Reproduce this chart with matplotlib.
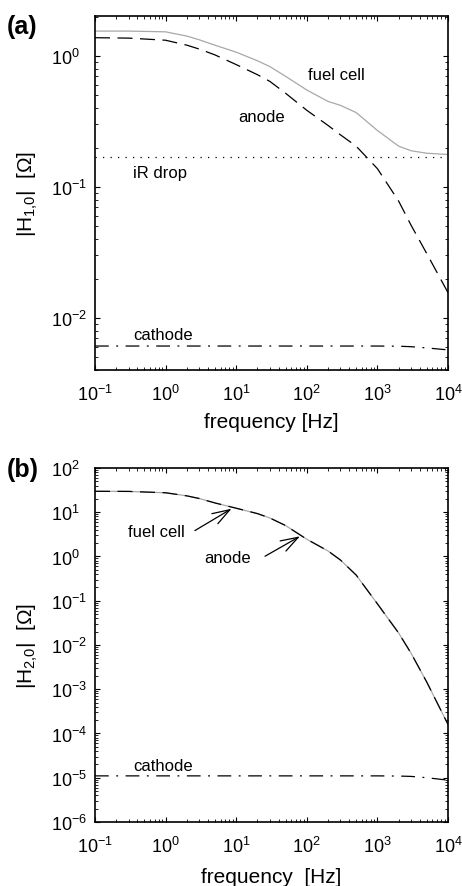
import numpy as np
import matplotlib
matplotlib.use("Agg")
import matplotlib.pyplot as plt
from matplotlib.ticker import LogLocator, NullFormatter

plt.rcParams['font.family'] = ['Liberation Sans', 'DejaVu Sans']
plt.rcParams['mathtext.fontset'] = 'custom'
plt.rcParams['mathtext.rm'] = 'Liberation Sans'
plt.rcParams['mathtext.it'] = 'Liberation Sans:italic'

# frequency grid [Hz]
freq = [0.1, 0.3, 1, 2, 3, 5, 10, 20, 30, 50, 100, 200, 300, 500,
        1000, 2000, 3000, 5000, 10000]

# (a) first order |H_1,0| [Ohm]
h1_fuel_cell = [1.55, 1.55, 1.53, 1.42, 1.33, 1.21, 1.07, 0.92, 0.83, 0.70,
                0.55, 0.45, 0.42, 0.37, 0.27, 0.205, 0.189, 0.181, 0.177]
h1_anode = [1.38, 1.37, 1.32, 1.21, 1.13, 1.02, 0.86, 0.72, 0.64, 0.52,
            0.385, 0.295, 0.25, 0.205, 0.138, 0.078, 0.051, 0.031, 0.0156]
h1_cathode = [0.0061, 0.0061, 0.0061, 0.0061, 0.0061, 0.0061, 0.0061, 0.0061,
              0.0061, 0.0061, 0.0061, 0.0061, 0.0061, 0.0061, 0.0061, 0.00608,
              0.00603, 0.0059, 0.0057]
ir_drop = 0.169

# (b) second order |H_2,0| [Ohm]
h2_fuel_cell = [29.7, 29.5, 27.5, 23.4, 20.4, 16.2, 12.3, 9.3, 7.4, 5.0,
                2.45, 1.33, 0.83, 0.38, 0.085, 0.0186, 0.0065, 0.00145, 1.6e-4]
h2_anode = [29.7, 29.5, 27.5, 23.4, 20.4, 16.2, 12.3, 9.3, 7.4, 5.0,
            2.45, 1.33, 0.83, 0.38, 0.085, 0.0186, 0.0065, 0.00145, 1.6e-4]
h2_cathode = [1.1e-5, 1.1e-5, 1.1e-5, 1.1e-5, 1.1e-5, 1.1e-5, 1.1e-5, 1.1e-5,
              1.1e-5, 1.1e-5, 1.1e-5, 1.1e-5, 1.1e-5, 1.1e-5, 1.1e-5, 1.09e-5,
              1.07e-5, 1.0e-5, 8.8e-6]

gray = '#a8a8a8'
dash = (0, (12, 6))
dashdot = (0, (11, 6, 1.5, 6))
dotted = (0, (1, 5))

fig = plt.figure(figsize=(4.62, 8.87), dpi=100)
ax1 = fig.add_axes([0.2056, 0.5817, 0.7641, 0.3991])
ax2 = fig.add_axes([0.2056, 0.0722, 0.7641, 0.3991])


def style_axis(ax):
    ax.set_xscale('log')
    ax.set_yscale('log')
    ax.set_xlim(0.1, 1e4)
    for spine in ax.spines.values():
        spine.set_linewidth(1.2)
    ax.xaxis.set_major_locator(LogLocator(base=10, numticks=20))
    ax.xaxis.set_minor_locator(LogLocator(base=10, subs=np.arange(2, 10), numticks=100))
    ax.yaxis.set_major_locator(LogLocator(base=10, numticks=20))
    ax.yaxis.set_minor_locator(LogLocator(base=10, subs=np.arange(2, 10), numticks=100))
    ax.xaxis.set_minor_formatter(NullFormatter())
    ax.yaxis.set_minor_formatter(NullFormatter())
    ax.tick_params(which='both', direction='in', top=True, right=True, labelsize=13)
    ax.tick_params(which='major', length=3.6, width=0.8)
    ax.tick_params(which='minor', length=2.2, width=0.6)
    ax.tick_params(axis='x', pad=10)
    ax.tick_params(axis='y', pad=31.5)


# ---- (a)
style_axis(ax1)
ax1.set_ylim(0.004, 2.02)
ax1.plot(freq, h1_fuel_cell, color=gray, lw=0.9)
ax1.plot(freq, h1_anode, color='black', lw=0.9, linestyle=dash)
ax1.plot(freq, h1_cathode, color='black', lw=0.9, linestyle=dashdot)
ax1.plot([freq[0], freq[-1]], [ir_drop, ir_drop], color='black', lw=0.9, linestyle=dotted)
ax1.text(105, 0.724, 'fuel cell', fontsize=12, va='center')
ax1.text(10.7, 0.348, 'anode', fontsize=12, va='center')
ax1.text(0.34, 0.129, 'iR drop', fontsize=12, va='center')
ax1.text(0.35, 0.0075, 'cathode', fontsize=12, va='center')
ax1.set_xlabel('frequency [Hz]', fontsize=15)
ax1.set_ylabel(r'|H$_{1{,}0}$|  [Ω]', fontsize=15)
ax1.xaxis.set_label_coords(0.5, -0.119)
ax1.yaxis.set_label_coords(-0.156, 0.5)

# ---- (b)
style_axis(ax2)
ax2.set_ylim(1e-6, 1e2)
ax2.plot(freq, h2_fuel_cell, color=gray, lw=0.9)
ax2.plot(freq, h2_anode, color='black', lw=0.9, linestyle=dash)
ax2.plot(freq, h2_cathode, color='black', lw=0.9, linestyle=dashdot)
arrow = dict(arrowstyle='->,head_length=0.9,head_width=0.3', color='black',
             lw=0.9, shrinkA=0, shrinkB=0, mutation_scale=14)
ax2.annotate('', xy=(8.6, 12.0), xytext=(2.6, 3.84), arrowprops=arrow)
ax2.annotate('', xy=(80, 2.85), xytext=(25.6, 1.01), arrowprops=arrow)
ax2.text(0.297, 3.7, 'fuel cell', fontsize=12, va='center')
ax2.text(3.54, 0.93, 'anode', fontsize=12, va='center')
ax2.text(0.35, 1.85e-5, 'cathode', fontsize=12, va='center')
ax2.set_xlabel('frequency  [Hz]', fontsize=15)
ax2.set_ylabel(r'|H$_{2{,}0}$|  [Ω]', fontsize=15)
ax2.xaxis.set_label_coords(0.5, -0.127)
ax2.yaxis.set_label_coords(-0.156, 0.5)

for ax in (ax1, ax2):
    for lab in ax.get_yticklabels():
        lab.set_horizontalalignment('left')

fig.text(0.015, 0.9696, '(a)', fontsize=18, fontweight='bold', va='center')
fig.text(0.015, 0.47, '(b)', fontsize=18, fontweight='bold', va='center')

fig.savefig('out.png', dpi=100)
